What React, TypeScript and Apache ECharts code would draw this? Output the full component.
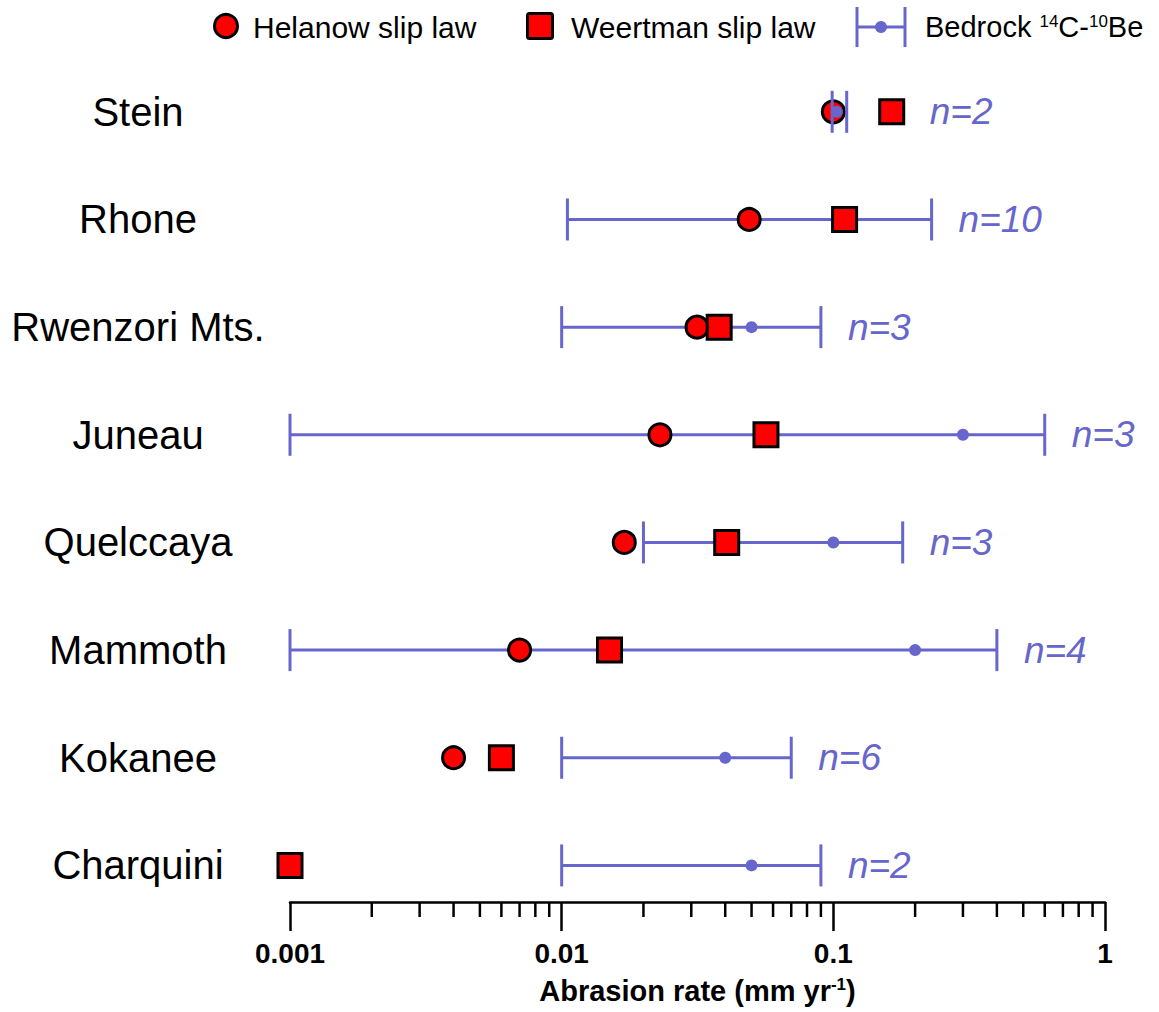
import React, { useEffect, useRef } from 'react';
import * as echarts from 'echarts';

// ---------- data ----------
const SITES = ['Stein', 'Rhone', 'Rwenzori Mts.', 'Juneau', 'Quelccaya', 'Mammoth', 'Kokanee', 'Charquini'];
const HELANOW: (number | null)[] = [0.1, 0.049, 0.0315, 0.023, 0.017, 0.007, 0.004, null];
const WEERTMAN = [0.164, 0.11, 0.038, 0.0565, 0.0405, 0.015, 0.006, 0.001];
const BEDROCK_MID = [0.103, 0.115, 0.05, 0.3, 0.1, 0.2, 0.04, 0.05];
const BEDROCK_LO = [0.099, 0.0105, 0.01, 0.001, 0.02, 0.001, 0.01, 0.01];
const BEDROCK_HI = [0.112, 0.23, 0.09, 0.6, 0.18, 0.4, 0.07, 0.09];
const N_SAMPLES = [2, 10, 3, 3, 3, 4, 6, 2];
const MINOR_TICKS = [
  0.002, 0.003, 0.004, 0.005, 0.006, 0.007, 0.008, 0.009,
  0.02, 0.03, 0.04, 0.05, 0.06, 0.07, 0.08, 0.09,
  0.2, 0.3, 0.4, 0.5, 0.6, 0.7, 0.8, 0.9,
];
const X_TITLE = 'Abrasion rate (mm yr{sup|-1})';
const LEGEND_NAMES = ['Helanow slip law', 'Weertman slip law', 'Bedrock {sup|14}C-{sup|10}Be'];

// ---------- style ----------
const FONT = '"Liberation Sans", Arial, Helvetica, sans-serif';
const BLUE = '#6666cc';
const RED = '#ff0000';
const Y_MIN = -0.34;
const Y_MAX = 7.5;

const rowOf = (i: number) => SITES.length - 1 - i;

export default function App() {
  const ref = useRef<HTMLDivElement>(null);

  useEffect(() => {
    if (!ref.current) return;
    const chart = echarts.init(ref.current, null, { renderer: 'svg' });

    const barData = SITES.map((_, i) => [
      rowOf(i),
      BEDROCK_LO[i],
      BEDROCK_HI[i],
      BEDROCK_MID[i],
      N_SAMPLES[i],
      HELANOW[i] == null ? NaN : HELANOW[i],
      WEERTMAN[i],
    ]);
    const helData = SITES.map((_, i) => (HELANOW[i] == null ? null : [HELANOW[i], rowOf(i)])).filter(Boolean);
    const weeData = SITES.map((_, i) => [WEERTMAN[i], rowOf(i)]);

    const option: any = {
      animation: false,
      grid: { left: 290, right: 54, top: 58, bottom: 110, containLabel: false, outerBoundsMode: 'none' },
      xAxis: {
        type: 'log',
        logBase: 10,
        min: 0.001,
        max: 1,
        axisLine: { show: true, onZero: false, lineStyle: { color: '#000', width: 2.5 } },
        axisTick: { show: true, length: 29, lineStyle: { color: '#000', width: 2.5 } },
        axisLabel: {
          margin: 37,
          fontSize: 28,
          fontWeight: 'bold',
          color: '#000',
          fontFamily: FONT,
          formatter: (v: number) => String(v),
        },
        splitLine: { show: false },
        name: X_TITLE,
        nameLocation: 'middle',
        nameGap: 74,
        nameTextStyle: {
          fontSize: 29,
          fontWeight: 'bold',
          color: '#000',
          fontFamily: FONT,
          rich: { sup: { fontSize: 17, fontWeight: 'bold', fontFamily: FONT, color: '#000', verticalAlign: 'top' } },
        },
      },
      yAxis: {
        type: 'value',
        min: Y_MIN,
        max: Y_MAX,
        axisLine: { show: false },
        axisTick: { show: false },
        splitLine: { show: false },
        axisLabel: {
          customValues: SITES.map((_, i) => rowOf(i)),
          formatter: (v: number) => SITES[SITES.length - 1 - Math.round(v)] ?? '',
          align: 'center',
          margin: 152,
          fontSize: 40,
          color: '#000',
          fontFamily: FONT,
        },
      },
      graphic: [
        {
          type: 'group',
          silent: true,
          children: [
            { type: 'circle', shape: { cx: 226, cy: 26, r: 11.5 }, style: { fill: RED, stroke: '#000', lineWidth: 3 } },
            {
              type: 'text', x: 253, y: 27,
              style: { text: LEGEND_NAMES[0], fontSize: 30, fontFamily: FONT, fill: '#000', verticalAlign: 'middle' },
            },
            { type: 'rect', shape: { x: 527.5, y: 13.5, width: 25, height: 25, r: 2 }, style: { fill: RED, stroke: '#000', lineWidth: 3 } },
            {
              type: 'text', x: 571, y: 27,
              style: { text: LEGEND_NAMES[1], fontSize: 30, fontFamily: FONT, fill: '#000', verticalAlign: 'middle' },
            },
            { type: 'line', shape: { x1: 857, y1: 27, x2: 905, y2: 27 }, style: { stroke: BLUE, lineWidth: 3 } },
            { type: 'line', shape: { x1: 857, y1: 7, x2: 857, y2: 47 }, style: { stroke: BLUE, lineWidth: 3 } },
            { type: 'line', shape: { x1: 905, y1: 7, x2: 905, y2: 47 }, style: { stroke: BLUE, lineWidth: 3 } },
            { type: 'circle', shape: { cx: 881, cy: 27, r: 6 }, style: { fill: BLUE } },
            {
              type: 'text', x: 925, y: 27,
              style: {
                text: LEGEND_NAMES[2], fontSize: 29, fontFamily: FONT, fill: '#000', verticalAlign: 'middle',
                rich: { sup: { fontSize: 17, fontFamily: FONT, fill: '#000', verticalAlign: 'top' } },
              },
            },
          ],
        },
      ],
      series: [
        // bedrock horizontal range lines (below markers)
        {
          type: 'custom',
          z: 1,
          clip: false,
          silent: true,
          encode: { x: [1, 2, 3], y: 0 },
          data: barData,
          renderItem: (params: any, api: any) => {
            const y = api.value(0);
            const a = api.coord([api.value(1), y]);
            const b = api.coord([api.value(2), y]);
            return {
              type: 'line',
              shape: { x1: a[0], y1: a[1], x2: b[0], y2: b[1] },
              style: { stroke: BLUE, lineWidth: 3 },
            };
          },
        },
        // Helanow circles
        {
          type: 'scatter',
          z: 2,
          name: 'Helanow slip law',
          symbol: 'circle',
          symbolSize: 22,
          itemStyle: { color: RED, borderColor: '#000', borderWidth: 3, opacity: 1 },
          data: helData,
        },
        // bedrock caps, mean point and n labels
        {
          type: 'custom',
          z: 3,
          clip: false,
          silent: true,
          encode: { x: [1, 2, 3], y: 0 },
          data: barData,
          renderItem: (params: any, api: any) => {
            const y = api.value(0);
            const a = api.coord([api.value(1), y]);
            const b = api.coord([api.value(2), y]);
            const m = api.coord([api.value(3), y]);
            const n = api.value(4);
            const hel = api.value(5);
            const wee = api.value(6);
            let right = b[0] + 27;
            if (!isNaN(wee)) right = Math.max(right, api.coord([wee, y])[0] + 13 + 25);
            if (!isNaN(hel)) right = Math.max(right, api.coord([hel, y])[0] + 12 + 25);
            const cap = 21;
            return {
              type: 'group',
              children: [
                { type: 'line', shape: { x1: a[0], y1: a[1] - cap, x2: a[0], y2: a[1] + cap }, style: { stroke: BLUE, lineWidth: 3 } },
                { type: 'line', shape: { x1: b[0], y1: b[1] - cap, x2: b[0], y2: b[1] + cap }, style: { stroke: BLUE, lineWidth: 3 } },
                { type: 'circle', shape: { cx: m[0], cy: m[1], r: 6 }, style: { fill: BLUE } },
                {
                  type: 'text',
                  x: right,
                  y: a[1],
                  style: {
                    text: 'n=' + n,
                    fill: BLUE,
                    fontSize: 37,
                    fontStyle: 'italic',
                    fontFamily: FONT,
                    align: 'left',
                    verticalAlign: 'middle',
                  },
                },
              ],
            };
          },
        },
        // Weertman squares
        {
          type: 'scatter',
          z: 4,
          name: 'Weertman slip law',
          symbol: 'rect',
          symbolSize: 24,
          itemStyle: { color: RED, borderColor: '#000', borderWidth: 3, opacity: 1 },
          data: weeData,
        },
        // minor ticks of the log axis
        {
          type: 'custom',
          z: 5,
          clip: false,
          silent: true,
          encode: { x: 0 },
          data: MINOR_TICKS.map((v) => [v]),
          renderItem: (params: any, api: any) => {
            const p = api.coord([api.value(0), Y_MIN]);
            return {
              type: 'line',
              shape: { x1: p[0], y1: p[1], x2: p[0], y2: p[1] + 15 },
              style: { stroke: '#000', lineWidth: 2.5 },
            };
          },
        },
      ],
    };

    chart.setOption(option);
    return () => chart.dispose();
  }, []);

  return (
    <div
      ref={ref}
      style={{ position: 'fixed', left: 0, top: 0, width: 1159, height: 1012, background: '#fff' }}
    />
  );
}
